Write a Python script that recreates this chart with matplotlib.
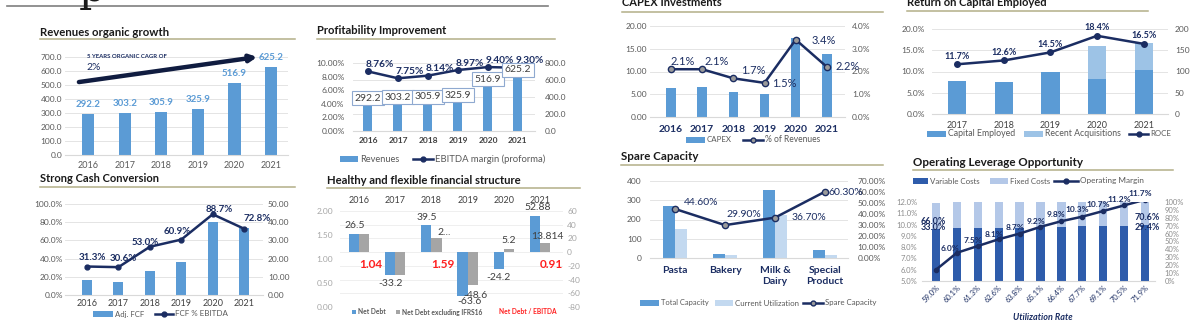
import matplotlib
matplotlib.use('Agg')
import matplotlib.pyplot as plt
import numpy as np
from matplotlib.patches import Rectangle
from matplotlib.ticker import FuncFormatter, MultipleLocator

plt.rcParams['font.family'] = ['Lato', 'DejaVu Sans']

# ---- figures ----
years = ['2016', '2017', '2018', '2019', '2020', '2021']
revenues = [292.2, 303.2, 305.9, 325.9, 516.9, 625.2]
ebitda_margin = [8.76, 7.75, 8.14, 8.97, 9.40, 9.30]

capex = [6.4, 6.6, 5.5, 5.0, 17.4, 13.9]
capex_pct = [2.1, 2.1, 1.7, 1.5, 3.4, 2.2]

roce_years = ['2017', '2018', '2019', '2020', '2021']
capital_employed = [78, 75, 100, 82, 104]
recent_acquisitions = [0, 0, 0, 78, 63]
roce = [11.7, 12.6, 14.5, 18.4, 16.5]

adj_fcf = [8.2, 7.1, 13.2, 18.1, 40.0, 36.6]
fcf_pct_ebitda = [31.3, 30.6, 53.0, 60.9, 88.7, 72.8]

net_debt = [26.5, -33.2, 39.5, -63.6, -24.2, 52.88]
net_debt_ex_ifrs16 = [26.5, -33.2, 20.3, -48.6, 5.2, 13.814]
ratio_years = ['2016', '2018', '2021']
net_debt_ebitda = [1.04, 1.59, 0.91]

plants = ['Pasta', 'Bakery', 'Milk &\nDairy', 'Special\nProduct']
total_capacity = [270, 22, 353, 42]
current_utilization = [150, 15.4, 223, 16.7]
spare_capacity = [44.60, 29.90, 36.70, 60.30]

utilization_rate = ['59.0%', '60.1%', '61.3%', '62.6%', '63.8%', '65.1%',
                    '66.4%', '67.7%', '69.1%', '70.5%', '71.9%']
variable_costs = [66.0, 66.6, 67.0, 67.3, 67.7, 68.1, 68.6, 69.0, 69.5, 70.0, 70.6]
fixed_costs = [33.0, 33.4, 33.0, 32.7, 32.3, 31.9, 31.4, 31.0, 30.5, 30.0, 29.4]
operating_margin = [6.0, 7.5, 8.1, 8.7, 9.2, 9.8, 10.3, 10.7, 11.2, 11.7, 12.2]

# ---- colours ----
BLUE = '#5B9BD5'
MID_BLUE = '#9DC3E6'
PALE_BLUE = '#C3D9F0'
DEEP_BLUE = '#2E5CAB'
FIXED_BLUE = '#B4C8E8'
GREY_BAR = '#A5A5A5'
NAVY = '#1B2D62'
TXT = '#595959'
DARK_TXT = '#404040'
RULE = '#B3AF88'
RED = '#FF1F1F'

W, H = 1201, 331
fig = plt.figure(figsize=(W / 100, H / 100), dpi=100)
bg = fig.add_axes([0, 0, 1, 1])
bg.set_xlim(0, W)
bg.set_ylim(H, 0)
bg.axis('off')
renderer = fig.canvas.get_renderer()


def panel(x0, y0, x1, y1):
    return fig.add_axes([x0 / W, 1 - y1 / H, (x1 - x0) / W, (y1 - y0) / H])


def fit(t, width):
    w = t.get_window_extent(renderer).width
    t.set_fontsize(t.get_fontsize() * width / w)


def title(x, y, text, width, x_end, rule_y):
    t = bg.text(x, y, text, fontsize=8.5, fontweight='bold', color='#1A1A1A', va='center')
    fit(t, width)
    bg.plot([x, x_end], [rule_y, rule_y], color=RULE, lw=1.1)


def key_box(x0, x1, y, color, label, width, h=5.5):
    bg.add_patch(Rectangle((x0, y - h / 2), x1 - x0, h, color=color, lw=0))
    t = bg.text(x1 + 2, y, label, va='center', color=TXT, fontsize=6)
    fit(t, width)


def key_line(x0, x1, y, label, width, mfc=NAVY):
    bg.plot([x0, x1], [y, y], color=NAVY, lw=1.8)
    bg.plot([(x0 + x1) / 2], [y], marker='o', ms=3.5, color=NAVY, mfc=mfc)
    t = bg.text(x1 + 2, y, label, va='center', color=TXT, fontsize=6)
    fit(t, width)


def clean(*axes):
    for a in axes:
        for s in a.spines.values():
            s.set_visible(False)
        a.tick_params(length=0, labelsize=6, colors=TXT)
    axes[0].spines['bottom'].set_visible(True)
    axes[0].spines['bottom'].set_color('#D9D9D9')


def fmt(pattern):
    return FuncFormatter(lambda v, p: pattern.format(v))


def pair(ax):
    # bars on ax (right-hand scale), line on the twin (left-hand scale)
    tw = ax.twinx()
    ax.yaxis.tick_right()
    tw.yaxis.tick_left()
    ax.set_zorder(1)
    tw.set_zorder(2)
    return tw


# page heading rule
bg.plot([7, 548], [6, 6], color='#7F7F7F', lw=1.2)
bg.text(79, 1, 'p', fontsize=30, family='DejaVu Serif', va='baseline', color='#1A1A1A')

# ---------------- Revenues organic growth ----------------
title(40, 32, 'Revenues organic growth', 128, 295, 39)
ax = panel(65, 57, 288, 155)
x = np.arange(len(years))
ax.bar(x, revenues, width=0.33, color=BLUE)
ax.set_xlim(-0.63, 5.46)
ax.set_ylim(0, 700)
ax.yaxis.set_major_locator(MultipleLocator(100))
ax.yaxis.set_major_formatter(fmt('{:.1f}'))
ax.set_xticks(x, years)
ax.yaxis.grid(True, color='#E4E4E4', lw=0.7)
ax.set_axisbelow(True)
clean(ax)
ax.tick_params(axis='y', pad=2)
ax.tick_params(axis='x', pad=4.5, labelsize=6.5)
for xi, v in zip(x, revenues):
    ax.annotate(f'{v:.1f}', (xi, v), xytext=(0, 9.5), textcoords='offset pixels',
                ha='center', va='center', color=BLUE, fontsize=7, fontweight='bold')
ax.annotate('', xy=(4.62, 700), xytext=(-0.25, 521), annotation_clip=False,
            arrowprops=dict(arrowstyle='-|>', color='#101C40', lw=3.2, mutation_scale=10,
                            shrinkA=0, shrinkB=0))
ax.text(-0.03, 700, '5 YEARS ORGANIC CAGR OF', fontsize=4.3, fontweight='bold',
        color=NAVY, va='center')
ax.text(-0.03, 628, '2%', fontsize=7.5, color=NAVY, va='center')

# ---------------- Profitability Improvement ----------------
title(317, 31, 'Profitability Improvement', 130, 555, 39)
ax = panel(353, 63, 535, 131)
lx = pair(ax)
ax.bar(x, revenues, width=0.3, color=BLUE)
ax.set_ylim(0, 800)
ax.yaxis.set_major_locator(MultipleLocator(200))
ax.yaxis.set_major_formatter(fmt('{:.1f}'))
ax.set_xlim(-0.5, 5.57)
ax.set_xticks(x, years)
ax.yaxis.grid(True, color='#E4E4E4', lw=0.7)
ax.set_axisbelow(True)
lx.plot(x, ebitda_margin, color=NAVY, lw=1.8, marker='o', ms=4)
lx.set_ylim(0, 10)
lx.yaxis.set_major_locator(MultipleLocator(2))
lx.yaxis.set_major_formatter(fmt('{:.2f}%'))
clean(ax, lx)
ax.tick_params(axis='y', pad=7)
lx.tick_params(axis='y', pad=6)
ax.tick_params(axis='x', pad=4, labelsize=6, labelcolor=DARK_TXT)
for lab in ax.get_xticklabels():
    lab.set_fontweight('bold')
for xi, v in zip(x, ebitda_margin):
    lx.annotate(f'{v:.2f}%', (xi, v), xytext=(12, 7), textcoords='offset pixels',
                ha='center', va='center', color=NAVY, fontsize=7.3, fontweight='bold')
for xi, v in zip(x, revenues):
    lx.annotate(f'{v:.1f}', (xi, v), xycoords=ax.transData, xytext=(0, 8),
                textcoords='offset pixels', ha='center', va='center', fontsize=7.5,
                color=DARK_TXT, zorder=5,
                bbox=dict(boxstyle='square,pad=0.25', fc='white', ec='#8FA9D0', lw=0.8))
key_box(340, 358, 159, BLUE, 'Revenues', 40)
key_line(413, 433, 159, 'EBITDA margin (proforma)', 112)

# ---------------- CAPEX Investments ----------------
title(622, 3, 'CAPEX Investments', 100, 883, 12)
ax = panel(650, 26, 845, 117)
rx = ax.twinx()
rx.set_zorder(2)
ax.bar(x, capex, width=0.3, color=BLUE)
ax.set_ylim(0, 20)
ax.yaxis.set_major_locator(MultipleLocator(5))
ax.yaxis.set_major_formatter(fmt('{:.2f}'))
ax.set_xlim(-0.67, 5.58)
ax.set_xticks(x, years)
ax.yaxis.grid(True, color='#E4E4E4', lw=0.7)
ax.set_axisbelow(True)
rx.plot(x, capex_pct, color=NAVY, lw=1.8, marker='o', ms=4.5, mfc='#9A9A9A', mec=NAVY)
rx.set_ylim(0, 4)
rx.yaxis.set_major_locator(MultipleLocator(1))
rx.yaxis.set_major_formatter(fmt('{:.1f}%'))
clean(ax, rx)
ax.tick_params(axis='y', pad=2)
rx.tick_params(axis='y', pad=5)
ax.tick_params(axis='x', pad=6, labelsize=7.5, labelcolor=NAVY)
for lab in ax.get_xticklabels():
    lab.set_fontweight('bold')
capex_offsets = [(12, 8), (15, 8), (20, 8), (20, -1), (28, -1), (21, 0)]
for xi, v, off in zip(x, capex_pct, capex_offsets):
    rx.annotate(f'{v:.1f}%', (xi, v), xytext=off, textcoords='offset pixels',
                ha='center', va='center', color=NAVY, fontsize=8)
key_box(686, 705, 140, BLUE, 'CAPEX', 25)
key_line(743, 763, 140, '% of Revenues', 56, mfc='#9A9A9A')

# ---------------- Return on Capital Employed ----------------
title(907, 3, 'Return on Capital Employed', 141, 1148, 11)
ax = panel(932, 29, 1168, 114)
lx = pair(ax)
x5 = np.arange(len(roce_years))
ax.bar(x5, capital_employed, width=0.39, color=BLUE)
ax.bar(x5, recent_acquisitions, width=0.39, bottom=capital_employed, color=MID_BLUE)
ax.set_ylim(0, 200)
ax.yaxis.set_major_locator(MultipleLocator(50))
ax.yaxis.set_major_formatter(fmt('{:.0f}'))
ax.set_xlim(-0.54, 4.52)
ax.set_xticks(x5, roce_years)
ax.yaxis.grid(True, color='#E4E4E4', lw=0.7)
ax.set_axisbelow(True)
lx.plot(x5, roce, color=NAVY, lw=1.8, marker='o', ms=4)
lx.set_ylim(0, 20)
lx.yaxis.set_major_locator(MultipleLocator(5))
lx.yaxis.set_major_formatter(fmt('{:.1f}%'))
clean(ax, lx)
ax.tick_params(axis='y', pad=5)
lx.tick_params(axis='y', pad=5)
ax.tick_params(axis='x', pad=5, labelsize=6.5, labelcolor=DARK_TXT)
for xi, v in zip(x5, roce):
    lx.annotate(f'{v:.1f}%', (xi, v), xytext=(0, 8), textcoords='offset pixels',
                ha='center', va='center', color=NAVY, fontsize=6.5, fontweight='bold')
key_box(927, 946, 134, BLUE, 'Capital Employed', 68)
key_box(1024, 1043, 134, MID_BLUE, 'Recent Acquisitions', 76)
key_line(1129, 1148, 134, 'ROCE', 21)

# ---------------- Strong Cash Conversion ----------------
title(40, 179, 'Strong Cash Conversion', 119, 295, 187)
ax = panel(65, 204, 263, 295)
lx = pair(ax)
ax.bar(x, adj_fcf, width=0.32, color=BLUE)
ax.set_ylim(0, 50)
ax.yaxis.set_major_locator(MultipleLocator(10))
ax.yaxis.set_major_formatter(fmt('{:.2f}'))
ax.set_xlim(-0.70, 5.6)
ax.set_xticks(x, years)
ax.yaxis.grid(True, color='#E4E4E4', lw=0.7)
ax.set_axisbelow(True)
lx.plot(x, fcf_pct_ebitda, color=NAVY, lw=1.8, marker='o', ms=3.5)
lx.set_ylim(0, 100)
lx.yaxis.set_major_locator(MultipleLocator(20))
lx.yaxis.set_major_formatter(fmt('{:.1f}%'))
clean(ax, lx)
ax.tick_params(axis='y', pad=3.5)
lx.tick_params(axis='y', pad=1.5)
ax.tick_params(axis='x', pad=3, labelsize=6.5, labelcolor=DARK_TXT)
fcf_offsets = [(5, 9), (5, 9), (-5, 4), (-4, 8), (7, 5), (13, 10)]
for xi, v, off in zip(x, fcf_pct_ebitda, fcf_offsets):
    lx.annotate(f'{v:.1f}%', (xi, v), xytext=off, textcoords='offset pixels',
                ha='center', va='center', color=NAVY, fontsize=7, fontweight='bold')
key_box(93, 113, 314, BLUE, 'Adj. FCF', 29)
key_line(155, 173, 314, 'FCF % EBITDA', 53)

# ---------------- Healthy and flexible financial structure ----------------
title(327, 180, 'Healthy and flexible financial structure', 193, 580, 188)
ax = panel(340, 211, 563, 307)
lx = pair(ax)
ax.bar(x - 0.14, net_debt, width=0.28, color=BLUE)
ax.bar(x + 0.14, net_debt_ex_ifrs16, width=0.28, color=GREY_BAR)
ax.set_ylim(-80, 60)
ax.yaxis.set_major_locator(MultipleLocator(20))
ax.yaxis.set_major_formatter(fmt('{:.0f}'))
ax.set_xlim(-0.52, 5.63)
ax.xaxis.tick_top()
ax.set_xticks(x, years)
ax.yaxis.grid(True, color='#EFEFEF', lw=0.7)
ax.set_axisbelow(True)
lx.set_ylim(0, 2)
lx.yaxis.set_major_locator(MultipleLocator(0.5))
lx.yaxis.set_major_formatter(fmt('{:.2f}'))
clean(ax, lx)
ax.spines['bottom'].set_visible(False)
ax.tick_params(axis='y', pad=3, colors='#A6A6A6')
lx.tick_params(axis='y', pad=5, colors='#A6A6A6')
ax.tick_params(axis='x', pad=4.5, labelsize=6.5, labelcolor=DARK_TXT)
nd_offsets = [(1, 8), (0, -9), (0, 8), (7, -6), (0, -9), (3, 8)]
for xi, v, off in zip(x, net_debt, nd_offsets):
    ax.annotate(f'{v:g}', (xi - 0.14, v), xytext=off, textcoords='offset pixels',
                ha='center', va='center', color=DARK_TXT, fontsize=7.5)
ex_labels = {2: '2...', 3: f'{net_debt_ex_ifrs16[3]:g}', 4: f'{net_debt_ex_ifrs16[4]:g}',
             5: f'{net_debt_ex_ifrs16[5]:g}'}
ex_offsets = {2: (8, 6), 3: (3, -10), 4: (0, 8), 5: (2, 6)}
for i, text in ex_labels.items():
    ax.annotate(text, (i + 0.14, net_debt_ex_ifrs16[i]), xytext=ex_offsets[i],
                textcoords='offset pixels', ha='center', va='center',
                color=DARK_TXT, fontsize=7.5)
for yr, r in zip(ratio_years, net_debt_ebitda):
    lx.text(years.index(yr) + 0.32, 0.875, f'{r:.2f}', ha='center', va='center',
            color=RED, fontsize=8.5, fontweight='bold')
bg.add_patch(Rectangle((352, 310), 4, 4, color=BLUE, lw=0))
t = bg.text(358, 312, 'Net Debt', va='center', color=TXT, fontsize=5, fontweight='bold')
fit(t, 28)
bg.add_patch(Rectangle((396, 310), 4, 4, color=GREY_BAR, lw=0))
t = bg.text(402, 312, 'Net Debt excluding IFRS16', va='center', color=TXT, fontsize=5,
            fontweight='bold')
fit(t, 82)
t = bg.text(499, 312, 'Net Debt / EBITDA', va='center', color=RED, fontsize=5,
            fontweight='bold')
fit(t, 58)

# ---------------- Spare Capacity ----------------
title(621, 157, 'Spare Capacity', 76, 883, 165)
ax = panel(650, 181, 848, 258)
rx = ax.twinx()
rx.set_zorder(2)
xp = np.arange(len(plants))
ax.bar(xp - 0.12, total_capacity, width=0.24, color=BLUE)
ax.bar(xp + 0.12, current_utilization, width=0.24, color=PALE_BLUE)
ax.set_ylim(0, 400)
ax.yaxis.set_major_locator(MultipleLocator(100))
ax.yaxis.set_major_formatter(fmt('{:.0f}'))
ax.set_xlim(-0.5, 3.46)
ax.set_xticks(xp, plants)
ax.yaxis.grid(True, color='#E4E4E4', lw=0.7)
ax.set_axisbelow(True)
rx.plot(xp, spare_capacity, color=NAVY, lw=1.8, marker='o', ms=4.5, mfc='#9A9A9A', mec=NAVY)
rx.set_ylim(0, 70)
rx.yaxis.set_major_locator(MultipleLocator(10))
rx.yaxis.set_major_formatter(fmt('{:.2f}%'))
clean(ax, rx)
ax.tick_params(axis='y', pad=6)
rx.tick_params(axis='y', pad=7)
ax.tick_params(axis='x', pad=6, labelsize=7.5, labelcolor=NAVY)
for lab in ax.get_xticklabels():
    lab.set_fontweight('bold')
spare_offsets = [(26, 6), (19, 11), (34, 0), (21, -1)]
for xi, v, off in zip(xp, spare_capacity, spare_offsets):
    rx.annotate(f'{v:.2f}%', (xi, v), xytext=off, textcoords='offset pixels',
                ha='center', va='center', color=NAVY, fontsize=7.5)
key_box(640, 659, 303, BLUE, 'Total Capacity', 48)
key_box(715, 733, 303, PALE_BLUE, 'Current Utilization', 64)
key_line(803, 823, 303, 'Spare Capacity', 52, mfc='#9A9A9A')

# ---------------- Operating Leverage Opportunity ----------------
title(913, 162, 'Operating Leverage Opportunity', 169, 1173, 170)
ax = panel(922, 202, 1155, 281)
lx = pair(ax)
xu = np.arange(len(utilization_rate))
ax.bar(xu, variable_costs, width=0.4, color=DEEP_BLUE)
ax.bar(xu, fixed_costs, width=0.4, bottom=variable_costs, color=FIXED_BLUE)
ax.set_ylim(0, 100)
ax.yaxis.set_major_locator(MultipleLocator(10))
ax.yaxis.set_major_formatter(fmt('{:.0f}%'))
ax.set_xlim(-0.67, 10.48)
ax.set_xticks(xu, utilization_rate)
lx.plot(xu, operating_margin, color=NAVY, lw=1.8, marker='o', ms=3)
lx.set_ylim(5, 12)
lx.yaxis.set_major_locator(MultipleLocator(1))
lx.yaxis.set_major_formatter(fmt('{:.1f}%'))
clean(ax, lx)
ax.tick_params(axis='y', pad=7, labelsize=5.5, colors='#8C8C8C')
lx.tick_params(axis='y', pad=3.5, labelsize=5.5, colors='#8C8C8C')
ax.tick_params(axis='x', pad=2, labelsize=5.5, labelcolor=NAVY)
for lab in ax.get_xticklabels():
    lab.set_rotation(45)
    lab.set_ha('right')
    lab.set_rotation_mode('anchor')
for i, (xi, v) in enumerate(zip(xu[:-1], operating_margin[:-1])):
    off = (14, 21) if i == 0 else (16, 12)
    lx.annotate(f'{v:.1f}%', (xi, v), xytext=off, textcoords='offset pixels',
                ha='center', va='center', color=NAVY, fontsize=6, fontweight='bold')
for i, off_v, off_f in [(0, (-3, -20), (-3, -26)), (10, (2, -16), (2, -25))]:
    lx.annotate(f'{variable_costs[i]:.1f}%', (xu[i], 100), xycoords=ax.transData,
                xytext=off_v, textcoords='offset pixels', ha='center', va='center',
                color=NAVY, fontsize=6.5, fontweight='bold')
    lx.annotate(f'{fixed_costs[i]:.1f}%', (xu[i], 100), xycoords=ax.transData,
                xytext=off_f, textcoords='offset pixels', ha='center', va='center',
                color=NAVY, fontsize=6.5, fontweight='bold')
bg.text(1043, 317, 'Utilization Rate', ha='center', va='center', color=NAVY,
        fontsize=6.5, fontweight='bold', style='italic')
key_box(913, 928, 181, DEEP_BLUE, 'Variable Costs', 50)
key_box(990, 1008, 181, FIXED_BLUE, 'Fixed Costs', 40)
key_line(1054, 1078, 181, 'Operating Margin', 64)

fig.savefig('out.png', dpi=100, facecolor='white')
